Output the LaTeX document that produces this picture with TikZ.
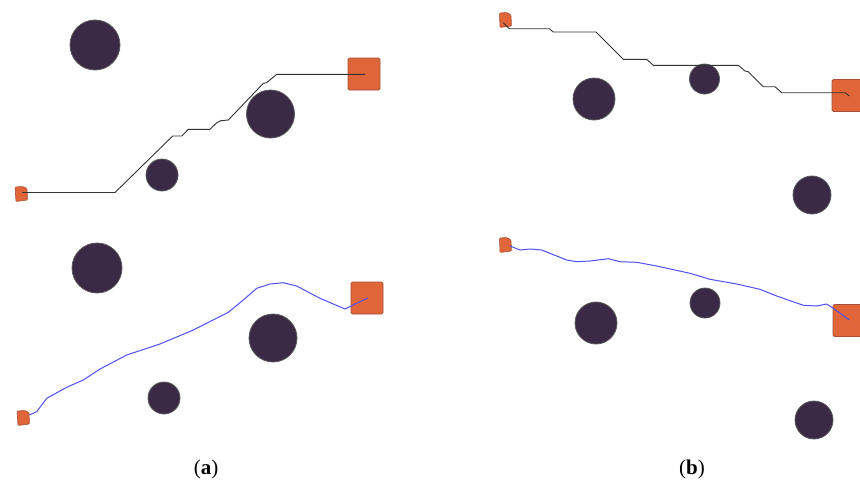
\documentclass[tikz,border=0pt]{standalone}
\usepackage{fontspec}
\setmainfont{Liberation Serif}
\begin{document}
\begin{tikzpicture}[x=1pt,y=-1pt,
  obst/.style={circle,draw=black!65,line width=0.8pt,fill={rgb,255:red,58;green,42;blue,70},inner sep=0pt},
  goalbox/.style={rectangle,draw={rgb,255:red,165;green,80;blue,55},line width=0.8pt,fill={rgb,255:red,224;green,101;blue,56},rounded corners=1.5pt,minimum size=32pt,inner sep=0pt},
  robot/.style={draw={rgb,255:red,165;green,80;blue,55},line width=0.6pt,fill={rgb,255:red,224;green,101;blue,56},rounded corners=1pt},
  gridpath/.style={draw=black!80,line width=0.9pt},
  smoothpath/.style={draw={rgb,255:red,80;green,80;blue,245},line width=1pt},
  lab/.style={font=\fontsize{21}{24}\selectfont}]
\useasboundingbox (0,0) rectangle (860,483);
\fill[white] (0,0) rectangle (860,483);

% ---- obstacles (a)
\node[obst,minimum size=50pt] (a1) at (95,45) {};
\node[obst,minimum size=48pt] (a2) at (270.5,114) {};
\node[obst,minimum size=32pt] (a3) at (162,175) {};
\node[obst,minimum size=50pt] (a4) at (97,268) {};
\node[obst,minimum size=48pt] (a5) at (273,338) {};
\node[obst,minimum size=32pt] (a6) at (164,398) {};
% ---- obstacles (b)
\node[obst,minimum size=42pt] (b1) at (594,99) {};
\node[obst,minimum size=30pt] (b2) at (704.5,79) {};
\node[obst,minimum size=38pt] (b3) at (812,195) {};
\node[obst,minimum size=42pt] (b4) at (596,323) {};
\node[obst,minimum size=30pt] (b5) at (705,303) {};
\node[obst,minimum size=38pt] (b6) at (814,420) {};

% ---- goals
\node[goalbox] (ga1) at (364,74) {};
\node[goalbox] (ga2) at (367,298) {};
\node[goalbox] (gb1) at (848,95.5) {};
\node[goalbox] (gb2) at (849,320.5) {};
\coordinate (ea1) at (365,74.3);
\coordinate (ea2) at (367.7,298);
\coordinate (eb1) at (849.3,96);
\coordinate (eb2) at (849.3,320);

% ---- robots (start)
\draw[robot] (15,187) -- (23,186.5) -- (27,188.5) -- (27.5,200) -- (16,201.5) -- cycle;
\draw[robot] (17,411) -- (25,410.5) -- (29,412.5) -- (29.5,424) -- (18,425.5) -- cycle;
\draw[robot] (499.5,13) -- (507,12.5) -- (511,15) -- (511.5,26) -- (500,27.5) -- cycle;
\draw[robot] (499.5,238) -- (507,237.5) -- (511,240) -- (511.5,251) -- (500,252.5) -- cycle;
\coordinate (sa1) at (22,192.5);
\coordinate (sa2) at (29.3,415);
\coordinate (sb1) at (503.3,22.7);
\coordinate (sb2) at (510,246);

% ---- path (a) top: grid planner
\draw[gridpath] (sa1) -- (115,192.5) -- (172.7,136) -- (181.7,136) -- (188.3,129.3)
  -- (210,129.3) -- (216.7,122.7) -- (220.7,120.7) -- (228.3,120) -- (263.3,83.3)
  -- (266.7,82.7) -- (276.7,74.3) -- (ea1);
% ---- path (a) bottom: smooth
\draw[smoothpath] (sa2) -- (36.7,411.7) -- (46.7,398.3) -- (66.7,387.3) -- (83.3,380)
  -- (100,369) -- (126.7,355) -- (160,344) -- (193.3,330) -- (228.3,312.3)
  -- (243.3,300) -- (256.7,288.3) -- (270,284) -- (283.3,282.7) -- (296.7,286)
  -- (320,298.3) -- (345,309) -- (ea2);
% ---- path (b) top: grid planner
\draw[gridpath] (sb1) -- (509.3,28.7) -- (549.3,28.7) -- (553.3,32) -- (596,32)
  -- (623.3,59.3) -- (646.7,59.3) -- (653.3,65.3) -- (738.3,65.3) -- (745,71)
  -- (748.3,71.7) -- (763.3,86.7) -- (775,86.7) -- (781.7,92.7) -- (845,92.7) -- (eb1);
% ---- path (b) bottom: smooth
\draw[smoothpath] (sb2) -- (520,250) -- (530,249) -- (541.7,250) -- (566.7,260)
  -- (576.7,261.7) -- (590,261) -- (608.3,258.7) -- (620,261.7) -- (636.7,262.3)
  -- (656.7,266) -- (690,273.3) -- (710,279.3) -- (736.7,284) -- (760,289.3)
  -- (776.7,296) -- (803.3,305.3) -- (816.7,306) -- (826.7,304) -- (833.3,308.3) -- (eb2);

% ---- labels
\node[lab] (la) at (206,469) {(\textbf{a})};
\node[lab] (lb) at (692,469) {(\textbf{b})};
\end{tikzpicture}
\end{document}
